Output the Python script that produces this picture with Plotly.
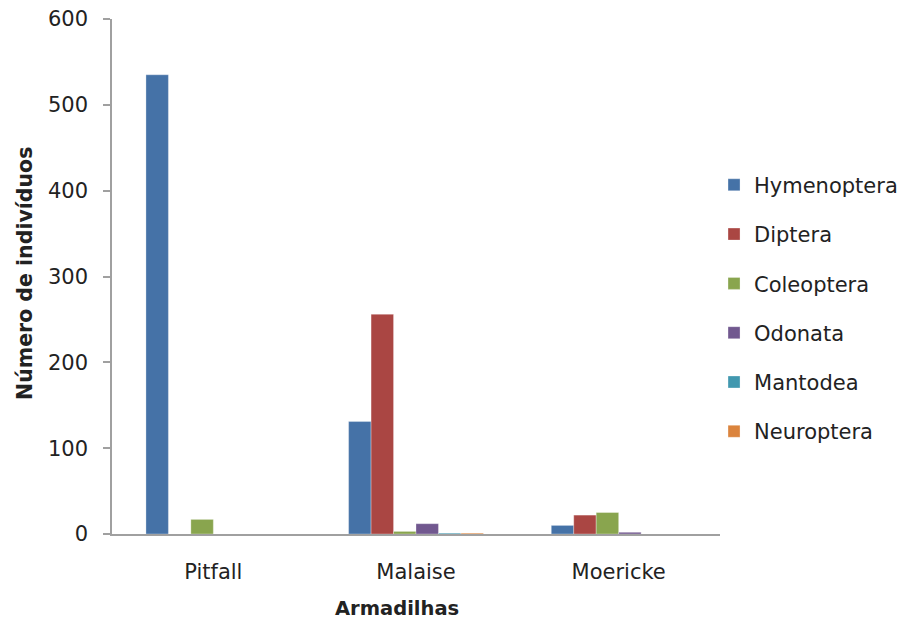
import plotly.graph_objects as go

armadilhas = ["Pitfall", "Malaise", "Moericke"]
ordens = ["Hymenoptera", "Diptera", "Coleoptera", "Odonata", "Mantodea", "Neuroptera"]
hymenoptera = [535, 131, 10]
diptera = [0, 256, 22]
coleoptera = [17, 3, 25]
odonata = [0, 12, 2]
mantodea = [0, 1, 0]
neuroptera = [0, 1, 0]
y_ticks = [0, 100, 200, 300, 400, 500, 600]

valores = [hymenoptera, diptera, coleoptera, odonata, mantodea, neuroptera]
cores = ["#4572A7", "#AA4643", "#89A54E", "#71588F", "#4198AF", "#DB843D"]

FONT = "DejaVu Sans, sans-serif"

fig = go.Figure()
for nome, vals, cor in zip(ordens, valores, cores):
    fig.add_trace(go.Bar(
        name=nome, x=armadilhas, y=vals, legendgroup=nome,
        marker=dict(color=cor, line=dict(color="rgba(255,255,255,0.5)", width=0.6)),
    ))

fig.update_layout(
    width=909, height=625,
    margin=dict(l=112, r=189, t=19, b=91, autoexpand=False),
    paper_bgcolor="white", plot_bgcolor="white",
    barmode="group", bargap=0.335, bargroupgap=0,
    font=dict(family=FONT, color="#222222", size=21),
    legend=dict(xref="container", yref="container",
                x=0.7855, xanchor="left", y=0.507, yanchor="middle",
                font=dict(size=21, family=FONT), tracegroupgap=19,
                itemwidth=30),
    showlegend=True,
    annotations=[
        dict(text="<b>Armadilhas</b>", xref="paper", yref="paper",
             x=0.469, y=-0.1456, xanchor="center", yanchor="middle",
             showarrow=False, font=dict(size=19.5, family=FONT)),
        dict(text="<b>Número de indivíduos</b>", xref="paper", yref="paper",
             x=-0.143, y=0.505, xanchor="center", yanchor="middle",
             textangle=-90, showarrow=False, font=dict(size=20.5, family=FONT)),
    ],
)
fig.update_xaxes(
    automargin=False,
    showline=True, linecolor="#a0a0a0", linewidth=1.5, ticks="",
    ticklabelstandoff=18, tickfont=dict(size=21),
)
fig.update_yaxes(
    automargin=False,
    range=[0, 600], tickvals=y_ticks, showgrid=False, zeroline=False,
    showline=True, linecolor="#a0a0a0", linewidth=1.5,
    ticks="outside", ticklen=7, tickcolor="#a0a0a0", tickwidth=1.5,
    ticklabelstandoff=11, tickfont=dict(size=21),
)

fig.write_html("out.html")
